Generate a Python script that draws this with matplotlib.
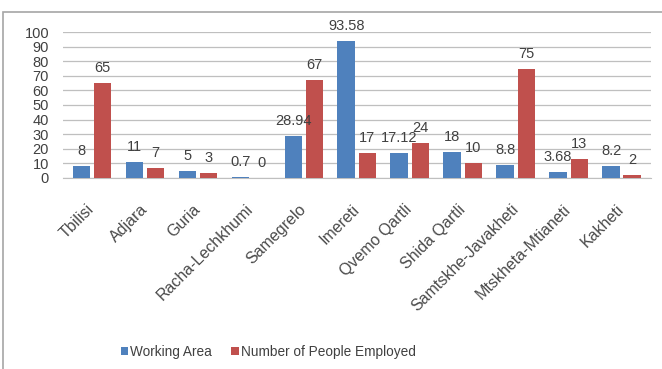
import matplotlib
matplotlib.use("Agg")
import matplotlib.pyplot as plt
import matplotlib.transforms as mtransforms
import numpy as np
from matplotlib.patches import Rectangle

regions = ["Tbilisi", "Adjara", "Guria", "Racha-Lechkhumi", "Samegrelo", "Imereti",
           "Qvemo Qartli", "Shida Qartli", "Samtskhe-Javakheti", "Mtskheta-Mtianeti", "Kakheti"]
working_area = [8, 11, 5, 0.7, 28.94, 93.58, 17.12, 18, 8.8, 3.68, 8.2]
people_employed = [65, 7, 3, 0, 67, 17, 24, 10, 75, 13, 2]

blue = "#4F81BD"
red = "#C0504D"
txt = "#404040"

plt.rcParams["font.family"] = ["Liberation Sans", "DejaVu Sans"]

fig = plt.figure(figsize=(6.62, 3.69), dpi=100)
ax = fig.add_axes([0.095, 0.518, 0.888, 0.395])

# chart frame
fig.patches.append(Rectangle((3 / 662, -0.01), 1.0, 1 - 12 / 369 + 0.01,
                             transform=fig.transFigure, fill=False,
                             edgecolor="#A6A6A6", linewidth=1.2))

x = np.arange(len(regions))
w = 0.33
b1 = ax.bar(x - 0.2, working_area, w, color=blue, label="Working Area", zorder=3)
b2 = ax.bar(x + 0.2, people_employed, w, color=red, label="Number of People Employed", zorder=3)

for bars, vals in ((b1, working_area), (b2, people_employed)):
    for rect, v in zip(bars, vals):
        ax.annotate(f"{v:g}", (rect.get_x() + rect.get_width() / 2, rect.get_height()),
                    xytext=(0, 15), textcoords="offset pixels", ha="center", va="center",
                    fontsize=10.5, color=txt)

ax.set_ylim(0, 100)
ax.set_yticks(range(0, 101, 10))
ax.set_xlim(-0.55, len(regions) - 0.45)
ax.set_xticks(x)
ax.set_xticklabels(regions, rotation=45, ha="right", va="center", rotation_mode="anchor",
                   fontsize=11.5, color="#4a4a4a")
shift = mtransforms.ScaledTranslation(8 / 100, 0, fig.dpi_scale_trans)
for lbl in ax.get_xticklabels():
    lbl.set_transform(lbl.get_transform() + shift)
ax.tick_params(axis="y", labelsize=10.5, labelcolor=txt, length=0, pad=10)
ax.tick_params(axis="x", length=0, pad=21)
ax.yaxis.grid(True, color="#BFBFBF", linewidth=0.9, zorder=0)
for s in ("top", "right", "left"):
    ax.spines[s].set_visible(False)
ax.spines["bottom"].set_color("#BFBFBF")

fig.legend(handles=[b1, b2], loc="center", bbox_to_anchor=(268 / 662, 1 - 352 / 369), ncol=2,
           frameon=False, fontsize=9.8, handlelength=0.55, handleheight=0.55,
           handletextpad=0.15, columnspacing=1.4, labelcolor=txt)

fig.savefig("out.png", dpi=100)
